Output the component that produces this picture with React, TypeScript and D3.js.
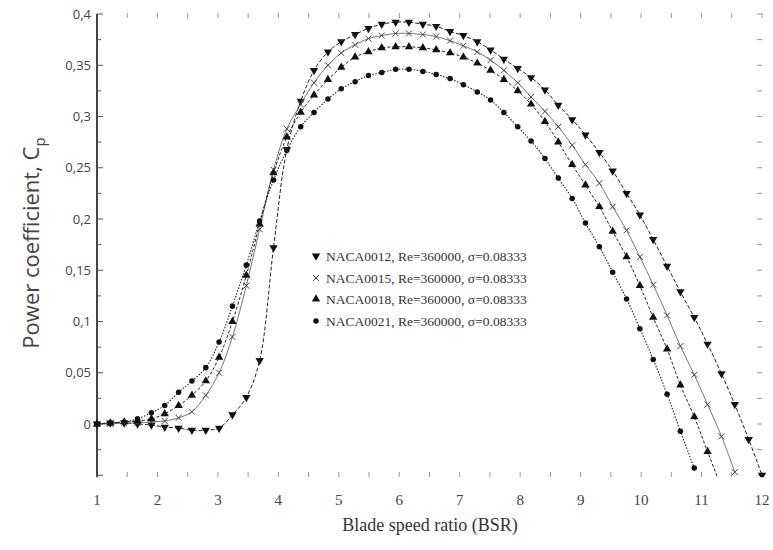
import React, {useEffect, useRef} from 'react'
import * as d3 from 'd3'

// blade speed ratio sampled for every profile
const bsr = [1.00, 1.22, 1.45, 1.67, 1.90, 2.12, 2.35, 2.57, 2.80, 3.02, 3.24, 3.47, 3.69, 3.92, 4.14,
    4.37, 4.59, 4.82, 5.04, 5.27, 5.49, 5.71, 5.94, 6.16, 6.39, 6.61, 6.84, 7.06, 7.29, 7.51, 7.73,
    7.96, 8.18, 8.41, 8.63, 8.86, 9.08, 9.31, 9.53, 9.76, 9.98, 10.20, 10.43, 10.65, 10.88, 11.10,
    11.33, 11.55, 11.78, 12.00]

const cp0012 = [0.000, 0.001, 0.001, 0.000, -0.001, -0.003, -0.004, -0.006, -0.006, -0.004, 0.009, 0.026,
    0.062, 0.172, 0.268, 0.315, 0.345, 0.363, 0.373, 0.380, 0.386, 0.390, 0.392, 0.392, 0.390, 0.388,
    0.383, 0.379, 0.373, 0.365, 0.356, 0.347, 0.338, 0.326, 0.311, 0.297, 0.282, 0.265, 0.247, 0.225,
    0.204, 0.180, 0.154, 0.129, 0.104, 0.078, 0.049, 0.019, -0.015, -0.050]

const cp0015 = [0.000, 0.000, 0.001, 0.001, 0.002, 0.003, 0.006, 0.012, 0.028, 0.050, 0.085, 0.135,
    0.190, 0.248, 0.288, 0.312, 0.333, 0.350, 0.362, 0.370, 0.376, 0.379, 0.381, 0.381, 0.380, 0.378,
    0.374, 0.369, 0.363, 0.355, 0.345, 0.333, 0.319, 0.305, 0.290, 0.272, 0.253, 0.235, 0.212, 0.189,
    0.163, 0.136, 0.106, 0.076, 0.048, 0.019, -0.012, -0.047]

const cp0018 = [0.000, 0.001, 0.002, 0.003, 0.005, 0.010, 0.018, 0.028, 0.042, 0.065, 0.100, 0.145,
    0.195, 0.245, 0.280, 0.304, 0.321, 0.336, 0.348, 0.358, 0.363, 0.367, 0.368, 0.368, 0.367, 0.365,
    0.362, 0.358, 0.352, 0.345, 0.336, 0.325, 0.312, 0.295, 0.275, 0.253, 0.233, 0.212, 0.188, 0.163,
    0.135, 0.104, 0.073, 0.038, 0.007, -0.027, -0.062]

const cp0021 = [0.000, 0.001, 0.002, 0.005, 0.011, 0.018, 0.031, 0.042, 0.055, 0.080, 0.115, 0.155,
    0.198, 0.238, 0.267, 0.290, 0.304, 0.317, 0.327, 0.334, 0.340, 0.343, 0.346, 0.346, 0.344, 0.341,
    0.337, 0.331, 0.324, 0.316, 0.304, 0.290, 0.276, 0.259, 0.240, 0.220, 0.196, 0.173, 0.148, 0.122,
    0.093, 0.063, 0.029, -0.007, -0.043]

const legendLabels = [
    'NACA0012, Re=360000, σ=0.08333',
    'NACA0015, Re=360000, σ=0.08333',
    'NACA0018, Re=360000, σ=0.08333',
    'NACA0021, Re=360000, σ=0.08333',
]

const xTicks = [1, 2, 3, 4, 5, 6, 7, 8, 9, 10, 11, 12]
const yTicks = [0, 0.05, 0.1, 0.15, 0.2, 0.25, 0.3, 0.35, 0.4]
const yTickLabels = ['0', '0,05', '0,1', '0,15', '0,2', '0,25', '0,3', '0,35', '0,4']

export default function App() {
    const ref = useRef<SVGSVGElement>(null)

    useEffect(() => {
        const svg = d3.select(ref.current)
        svg.selectAll('*').remove()

        const x = d3.scaleLinear().domain([1, 12]).range([97, 762])
        const y = d3.scaleLinear().domain([0, 0.4]).range([424, 14])

        const serif = '"Liberation Serif", "DejaVu Serif", serif'
        const sans = '"Open Sans", "Noto Sans", sans-serif'

        svg.append('defs').append('clipPath').attr('id', 'plotclip')
            .append('rect').attr('x', 90).attr('y', 0).attr('width', 683).attr('height', y(-0.052))

        // faint frame ticks (top, bottom, right)
        const halfSteps = d3.range(2, 25).map(d => d / 2)
        const frame = svg.append('g').attr('stroke', '#999').attr('stroke-width', 1)
        frame.selectAll('.tt').data(halfSteps.slice(1)).enter().append('line')
            .attr('x1', d => x(d)).attr('x2', d => x(d)).attr('y1', 13).attr('y2', 18)
        frame.selectAll('.bt').data(halfSteps.slice(1)).enter().append('line')
            .attr('x1', d => x(d)).attr('x2', d => x(d)).attr('y1', 472).attr('y2', 477)
        const quarter = d3.range(-2, 17).map(d => d * 0.025)
        frame.selectAll('.rt').data(quarter).enter().append('line')
            .attr('x1', 757).attr('x2', 762).attr('y1', d => y(d)).attr('y2', d => y(d))

        // left axis
        svg.append('line').attr('x1', 97).attr('x2', 97).attr('y1', y(0.4)).attr('y2', y(-0.052))
            .attr('stroke', '#444').attr('stroke-width', 2)
        svg.append('g').selectAll('line').data(quarter).enter().append('line')
            .attr('x1', 97).attr('x2', (d, i) => i % 2 === 0 ? 103 : 101)
            .attr('y1', d => y(d)).attr('y2', d => y(d))
            .attr('stroke', '#555').attr('stroke-width', 1)

        svg.append('g').selectAll('text').data(yTicks).enter().append('text')
            .attr('x', 91).attr('y', d => y(d)).attr('dy', '0.35em')
            .attr('text-anchor', 'end').attr('font-family', sans).attr('font-size', 13)
            .attr('fill', '#444').text((d, i) => yTickLabels[i])

        svg.append('g').selectAll('text').data(xTicks).enter().append('text')
            .attr('x', d => x(d)).attr('y', 505)
            .attr('text-anchor', 'middle').attr('font-family', serif).attr('font-size', 15)
            .attr('fill', '#444').text(d => d)

        svg.append('text').attr('x', 430).attr('y', 531).attr('text-anchor', 'middle')
            .attr('font-family', serif).attr('font-size', 18).attr('fill', '#333')
            .text('Blade speed ratio (BSR)')

        const yt = svg.append('text').attr('transform', 'translate(39,243) rotate(-90)')
            .attr('text-anchor', 'middle').attr('font-family', sans).attr('font-size', 22)
            .attr('fill', '#444')
        yt.append('tspan').text('Power coefficient, C')
        yt.append('tspan').attr('font-size', 15).attr('dy', 6).text('p')

        const series = [
            {values: cp0012, mark: 'tri-down', dash: '4,2', color: '#222', width: 1},
            {values: cp0015, mark: 'cross', dash: null, color: '#666', width: 0.9},
            {values: cp0018, mark: 'tri-up', dash: '3,2', color: '#222', width: 1},
            {values: cp0021, mark: 'circle', dash: '1.5,1.5', color: '#222', width: 1.1},
        ]

        const line = d3.line<number>()
            .x((d, i) => x(bsr[i]))
            .y(d => y(d))
            .curve(d3.curveCatmullRom)

        const triDown = d3.symbol().type(d3.symbolTriangle).size(30)
        const circle = d3.symbol().type(d3.symbolCircle).size(24)

        const drawMark = (g: any, kind: string) => {
            if (kind === 'tri-down') {
                g.append('path').attr('d', triDown()).attr('transform', 'rotate(180)').attr('fill', '#111')
            } else if (kind === 'tri-up') {
                g.append('path').attr('d', triDown()).attr('fill', '#111')
            } else if (kind === 'circle') {
                g.append('path').attr('d', circle()).attr('fill', '#111')
            } else {
                g.append('path').attr('d', 'M-3,-3L3,3M-3,3L3,-3').attr('stroke', '#444')
                    .attr('stroke-width', 1).attr('fill', 'none')
            }
        }

        const plot = svg.append('g').attr('clip-path', 'url(#plotclip)')
        series.forEach(s => {
            plot.append('path').datum(s.values).attr('d', line)
                .attr('fill', 'none').attr('stroke', s.color).attr('stroke-width', s.width)
                .attr('stroke-dasharray', s.dash)
            s.values.forEach((v, i) => {
                const g = plot.append('g').attr('transform', `translate(${x(bsr[i])},${y(v)})`)
                drawMark(g, s.mark)
            })
        })

        // legend
        const legend = svg.append('g')
        const rowY = [256, 278, 299, 321]
        series.forEach((s, i) => {
            const g = legend.append('g').attr('transform', `translate(316,${rowY[i]})`)
            drawMark(g, s.mark)
            legend.append('text').attr('x', 326).attr('y', rowY[i]).attr('dy', '0.35em')
                .attr('font-family', serif).attr('font-size', 13.5).attr('fill', '#333')
                .text(legendLabels[i])
        })
    }, [])

    return (
        <svg ref={ref} width={773} height={550}
             style={{position: 'absolute', left: 0, top: 0, background: '#fff'}}/>
    )
}
